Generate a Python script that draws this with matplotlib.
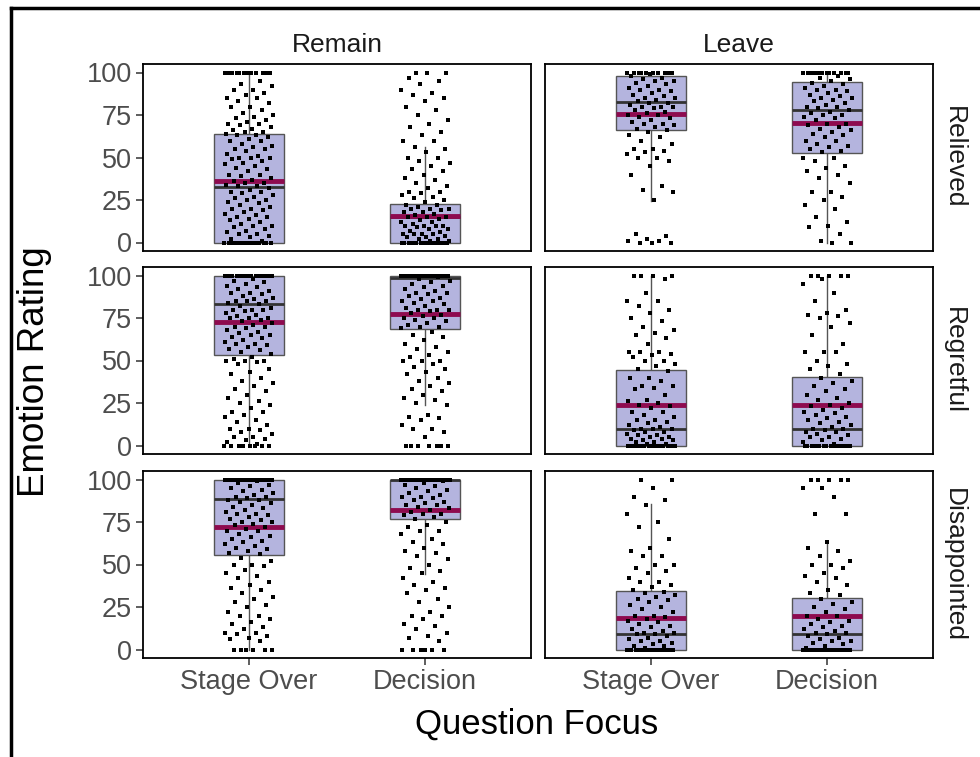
import numpy as np
import matplotlib
matplotlib.use("Agg")
import matplotlib.pyplot as plt
from matplotlib.lines import Line2D

plt.rcParams['font.family'] = ['Liberation Sans', 'DejaVu Sans']

# ---- data ----
groups = ["Remain", "Leave"]
emotions = ["Relieved", "Regretful", "Disappointed"]
focus = ["Stage Over", "Decision"]

# box stats: (whisker_lo, q1, median, q3, whisker_hi, mean)
box_stats = {
    ("Remain", "Relieved"):     [(0, 0, 32.5, 64, 100, 36), (0, 0, 15, 22.7, 56, 15.3)],
    ("Leave", "Relieved"):      [(24.7, 66, 82.5, 98, 100, 75.7), (0, 52.7, 78.2, 94.7, 100, 70.4)],
    ("Remain", "Regretful"):    [(0, 53.5, 83.2, 99.5, 100, 72.4), (23.6, 68.7, 98.5, 99.5, 100, 77.1)],
    ("Leave", "Regretful"):     [(0, 0, 9.8, 44.5, 100, 23.6), (0, 0, 9.8, 40.2, 100, 23.6)],
    ("Remain", "Disappointed"): [(0, 55.3, 88.6, 99.5, 100, 72.2), (44.5, 76.5, 99.8, 100, 100, 81.8)],
    ("Leave", "Disappointed"):  [(0, 0, 9.2, 34.7, 85.7, 18.6), (0, 0, 9.2, 30.4, 63.8, 19.6)],
}

# individual ratings (estimated from the jittered points)
rem_rel_stage = [100]*12 + [95, 93, 92, 90, 90, 88, 87, 85, 85, 83, 82, 80, 80, 78, 76, 75, 74, 73, 72, 71,
                 70, 70, 69, 68, 67, 66, 65, 65, 64, 63, 63, 62, 61, 60, 60, 58, 57, 56, 55, 55, 54, 52,
                 51, 50, 50, 50, 49, 48, 47, 46, 45, 44, 43, 42, 40, 40, 39, 38, 37, 36, 35, 35, 34, 33,
                 33, 32, 31, 30, 30, 29, 28, 27, 26, 25, 25, 24, 23, 22, 21, 20, 20, 19, 18, 17, 16, 15,
                 15, 14, 13, 12, 11, 10, 10, 9, 8, 7, 6, 5, 5, 4, 3, 2, 1] + [0]*14
rem_rel_dec = [100]*3 + [97, 95, 93, 90, 88, 87, 85, 83, 80, 78, 75, 72, 70, 68, 65, 63, 60, 60, 56, 55, 53,
               50, 50, 48, 47, 45, 43, 42, 40, 38, 37, 35, 33, 32, 30, 30, 29, 28, 27, 26, 25, 24, 22, 22,
               21, 20, 20, 20, 19, 18, 18, 17, 16, 15, 15, 15, 14, 13, 12, 12, 11, 10, 10, 10, 10, 9, 8,
               8, 7, 6, 5, 5, 5, 5, 4, 3, 3, 2, 2, 1, 1] + [0]*16
lea_rel_stage = [100]*10 + [99, 98, 97, 96, 95, 95, 94, 93, 92, 91, 90, 90, 89, 88, 87, 86, 85, 85, 84, 83,
                 82, 82, 81, 80, 80, 80, 79, 78, 77, 76, 75, 75, 74, 73, 72, 71, 70, 70, 69, 68, 67, 66,
                 65, 63, 62, 60, 58, 55, 55, 54, 53, 52, 50, 50, 48, 45, 40, 33, 31, 30, 25,
                 5, 4, 2, 1, 1, 0, 0, 0]
lea_rel_dec = [100]*12 + [98, 97, 96, 95, 94, 93, 92, 91, 90, 90, 89, 88, 87, 86, 85, 85, 84, 83, 82, 81,
               80, 80, 79, 78, 77, 76, 75, 75, 74, 73, 72, 70, 70, 69, 68, 67, 66, 65, 64, 63, 62, 60, 60,
               58, 57, 56, 55, 54, 53, 50, 50, 48, 45, 44, 42, 40, 38, 35, 30, 30, 27, 25, 22, 20, 15, 12,
               10, 9, 5, 1, 0, 0]
rem_reg_stage = [100]*15 + [98, 97, 96, 95, 94, 93, 92, 91, 90, 90, 89, 88, 87, 86, 85, 85, 85, 84, 83, 82,
                 81, 80, 80, 80, 79, 78, 77, 76, 75, 75, 75, 74, 73, 72, 71, 70, 70, 69, 68, 67, 66, 65,
                 65, 64, 63, 62, 61, 60, 60, 59, 58, 57, 56, 55, 54, 52, 51, 50, 50, 50, 49, 48, 45, 43,
                 42, 40, 38, 37, 35, 33, 32, 30, 28, 26, 25, 24, 22, 20, 20, 18, 17, 15, 14, 12, 10, 10,
                 9, 8, 7, 5, 5, 4, 3, 2, 1] + [0]*8
rem_reg_dec = [100]*25 + [99, 98, 97, 96, 95, 94, 93, 92, 91, 90, 90, 89, 88, 87, 86, 85, 85, 84, 83, 82,
               81, 80, 80, 80, 79, 78, 77, 76, 75, 75, 74, 73, 72, 71, 70, 70, 69, 67, 65, 64, 62, 60, 58,
               57, 55, 53, 52, 50, 50, 50, 48, 46, 45, 43, 42, 40, 38, 37, 35, 33, 32, 30, 28, 27, 25, 24,
               18, 17, 16, 15, 12, 10, 10, 8, 5] + [0]*7
lea_reg_stage = [100, 100, 100, 100, 98, 90, 85, 85, 82, 80, 78, 75, 73, 70, 68, 66, 65, 63, 60, 55, 55, 55,
                 54, 53, 52, 50, 50, 48, 47, 45, 44, 40, 40, 38, 35, 35, 34, 33, 30, 27, 26, 25, 24, 23,
                 22, 20, 20, 18, 17, 15, 15, 14, 13, 12, 11, 10, 10, 10, 9, 8, 8, 7, 6, 6, 5, 5, 4, 4, 3,
                 3, 2, 2, 1, 1] + [0]*15
lea_reg_dec = [100, 100, 100, 100, 100, 98, 95, 90, 85, 80, 78, 77, 76, 75, 72, 70, 65, 60, 55, 55, 55, 50,
               48, 47, 45, 42, 40, 38, 37, 35, 33, 32, 30, 28, 27, 25, 24, 23, 22, 21, 20, 19, 18, 17, 16,
               15, 14, 13, 12, 11, 10, 10, 9, 8, 8, 7, 6, 5, 5, 4, 3, 2, 1] + [0]*15
rem_dis_stage = [100]*20 + [99, 98, 97, 96, 95, 94, 93, 92, 91, 90, 90, 89, 88, 88, 87, 86, 85, 84, 83, 82,
                 81, 80, 80, 79, 78, 77, 76, 75, 75, 74, 73, 72, 71, 70, 70, 68, 67, 66, 65, 64, 63, 62,
                 61, 60, 59, 58, 57, 56, 54, 52, 50, 50, 49, 47, 45, 43, 42, 40, 38, 36, 35, 33, 31, 30,
                 28, 26, 25, 22, 20, 20, 18, 16, 15, 13, 12, 10, 10, 9, 8, 7, 6, 5] + [0]*6
rem_dis_dec = [100]*30 + [99, 98, 97, 96, 95, 94, 93, 92, 91, 90, 90, 89, 88, 87, 86, 85, 85, 84, 83, 82,
               81, 80, 80, 79, 78, 77, 75, 73, 72, 70, 70, 68, 65, 63, 62, 60, 58, 57, 55, 53, 50, 48, 46,
               45, 42, 40, 38, 36, 35, 33, 30, 28, 25, 22, 20, 20, 18, 15, 14, 12, 10, 8, 7, 5] + [0]*6
lea_dis_stage = [100, 100, 95, 90, 88, 85, 80, 75, 72, 65, 60, 58, 55, 55, 50, 50, 48, 46, 45, 42, 40, 40,
                 38, 37, 35, 34, 33, 32, 31, 30, 29, 28, 26, 25, 24, 22, 20, 20, 19, 18, 17, 16, 15, 14,
                 13, 12, 11, 10, 10, 9, 9, 8, 7, 6, 5, 5, 4, 3, 2, 2, 1] + [0]*18
lea_dis_dec = [100, 100, 100, 100, 100, 95, 95, 90, 80, 80, 63, 60, 58, 55, 52, 50, 50, 48, 45, 43, 42, 40,
               38, 35, 33, 32, 30, 28, 27, 25, 24, 22, 20, 20, 18, 17, 16, 15, 14, 13, 12, 11, 10, 10, 9,
               8, 7, 6, 5, 5, 4, 3, 2, 1] + [0]*18

ratings = {
    ("Remain", "Relieved"): [rem_rel_stage, rem_rel_dec],
    ("Leave", "Relieved"): [lea_rel_stage, lea_rel_dec],
    ("Remain", "Regretful"): [rem_reg_stage, rem_reg_dec],
    ("Leave", "Regretful"): [lea_reg_stage, lea_reg_dec],
    ("Remain", "Disappointed"): [rem_dis_stage, rem_dis_dec],
    ("Leave", "Disappointed"): [lea_dis_stage, lea_dis_dec],
}

# ---- layout ----
W, H = 980, 757
fig = plt.figure(figsize=(W / 100, H / 100), dpi=100)

col_left = [143, 545]
col_w = 388
row_top = [64, 267, 471]
row_h = 187

box_fill = '#b4b4de'
edge_col = '#555555'
mean_col = '#8e0b4f'
tick_col = '#4d4d4d'


def jitter(n, width=0.14):
    # fixed low-discrepancy spread so points don't stack on one vertical line
    k = np.arange(n)
    return ((k * 0.6180339887 + 0.31) % 1.0 - 0.5) * 2 * width


for r, emo in enumerate(emotions):
    for c, grp in enumerate(groups):
        ax = fig.add_axes([col_left[c] / W, 1 - (row_top[r] + row_h) / H, col_w / W, row_h / H])
        stats = box_stats[(grp, emo)]
        for i, (wlo, q1, med, q3, whi, mean) in enumerate(stats):
            x = i + 1
            hw = 0.2
            # whiskers
            ax.plot([x, x], [q3, whi], color=edge_col, lw=1.0, zorder=1)
            ax.plot([x, x], [wlo, q1], color=edge_col, lw=1.0, zorder=1)
            ax.add_patch(plt.Rectangle((x - hw, q1), 2 * hw, q3 - q1, facecolor=box_fill,
                                       edgecolor=edge_col, lw=1.0, zorder=2))
            ax.plot([x - hw, x + hw], [med, med], color='#333333', lw=2.0, zorder=3,
                    solid_capstyle='butt')
            ax.plot([x - hw, x + hw], [mean, mean], color=mean_col, lw=3.5, zorder=3,
                    solid_capstyle='butt')
            vals = np.array(ratings[(grp, emo)][i], dtype=float)
            ax.scatter(x + jitter(len(vals)), vals, s=7, c='black', marker='s',
                       linewidths=0, zorder=4)

        ax.set_xlim(0.4, 2.6)
        ax.set_ylim(-5, 105)
        ax.set_yticks([0, 25, 50, 75, 100])
        ax.set_xticks([1, 2])
        for sp in ax.spines.values():
            sp.set_linewidth(1.3)
            sp.set_color('black')
        ax.tick_params(length=5, width=1.1, color='#333333', labelcolor=tick_col,
                       labelsize=19.5, pad=3)
        if c == 0:
            ax.set_yticklabels(['0', '25', '50', '75', '100'])
        else:
            ax.tick_params(axis='y', left=False, labelleft=False)
        if r == 2:
            ax.set_xticklabels(focus)
        else:
            ax.tick_params(axis='x', bottom=False, labelbottom=False)
        if r == 0:
            ax.set_title(grp, fontsize=19, color='#1a1a1a', pad=9)
        if c == 1:
            ax.text(1.022, 0.5, emo, transform=ax.transAxes, rotation=-90,
                    ha='left', va='center', fontsize=19, color='#1a1a1a')

fig.text(35 / W, 1 - 372 / H, 'Emotion Rating', rotation=90, ha='center', va='center',
         fontsize=26.5, color='black')
fig.text(537 / W, 1 - 724 / H, 'Question Focus', ha='center', va='center',
         fontsize=25, color='black')

# outer frame lines (left and top)
fig.add_artist(Line2D([11 / W, 11 / W], [0, 1 - 8 / H], color='black', lw=2.5))
fig.add_artist(Line2D([11 / W, 1], [1 - 8 / H, 1 - 8 / H], color='black', lw=2.5))

fig.savefig('out.png', dpi=100)
